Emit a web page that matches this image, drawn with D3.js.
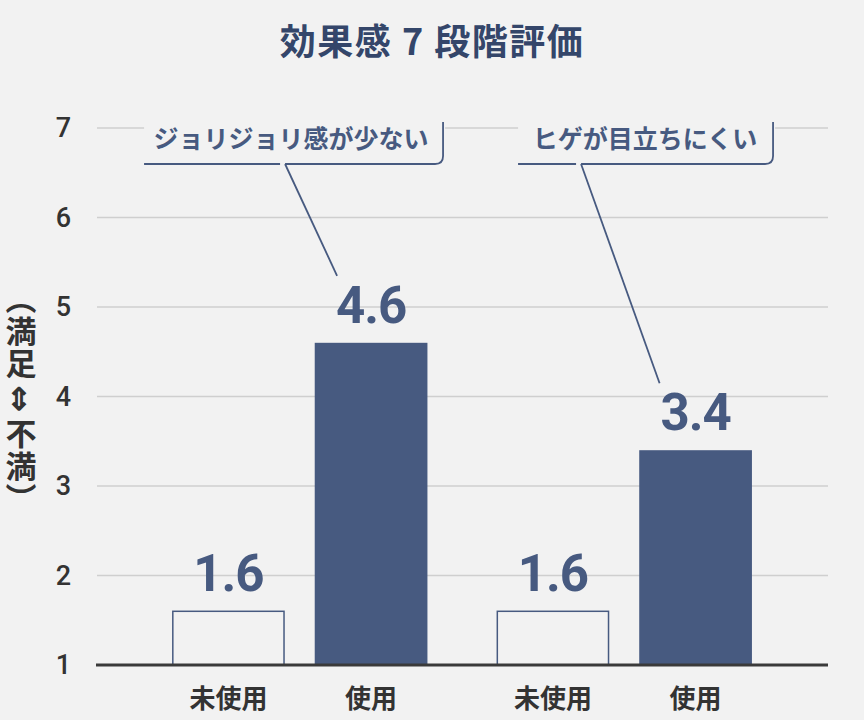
<!DOCTYPE html>
<html>
<head>
<meta charset="utf-8">
<script src="https://cdn.jsdelivr.net/npm/d3@7"></script>
<style>
  html, body { margin: 0; padding: 0; background: #f2f2f2; }
  svg { display: block; font-family: "Noto Sans CJK JP", "Noto Sans", sans-serif; }
</style>
</head>
<body>
<div id="chart"></div>
<script>
// DATA
const groups = ["ジョリジョリ感が少ない", "ヒゲが目立ちにくい"];
const conditions = ["未使用", "使用"];
const valuesUnused = [1.6, 1.6];
const valuesUsed = [4.6, 3.4];
const yTicks = [1, 2, 3, 4, 5, 6, 7];

// CONSTANTS
const width = 864, height = 720;
const navy = "#475a80";
const titleNavy = "#34466a";
const textDark = "#333333";
const bg = "#f2f2f2";

const svg = d3.select("#chart").append("svg")
    .attr("width", width)
    .attr("height", height);

svg.append("rect").attr("width", width).attr("height", height).attr("fill", bg);

// SCALES
const y = d3.scaleLinear().domain([1, 7]).range([665, 128]);
const x0 = d3.scaleBand().domain(groups).range([137.5, 786.5]).paddingInner(0.213).paddingOuter(0.1065);
const x1 = d3.scaleBand().domain(conditions).range([0, x0.bandwidth()]).paddingInner(0.21);

// title
svg.append("text")
    .attr("x", 432).attr("y", 55)
    .attr("text-anchor", "middle")
    .attr("font-size", 36).attr("font-weight", 700)
    .attr("letter-spacing", 1.5)
    .attr("fill", titleNavy)
    .text("効果感 7 段階評価");

// gridlines
svg.append("g")
    .selectAll("line")
    .data(yTicks.filter(d => d > 1))
    .join("line")
    .attr("x1", 97).attr("x2", 828)
    .attr("y1", d => y(d)).attr("y2", d => y(d))
    .attr("stroke", "#cfcfcf").attr("stroke-width", 1.5);

// y axis labels
const yAxis = svg.append("g")
    .attr("transform", "translate(71,0)")
    .call(d3.axisLeft(y).tickValues(yTicks).tickSize(0).tickPadding(0).tickFormat(d3.format("d")));
yAxis.select(".domain").remove();
yAxis.selectAll("text")
    .attr("font-family", "Roboto, 'Noto Sans', sans-serif")
    .attr("font-size", 27).attr("font-weight", 500)
    .attr("fill", textDark);

// y label (vertical)
svg.append("text")
    .attr("x", 21).attr("y", 283)
    .style("writing-mode", "vertical-rl")
    .style("text-orientation", "upright")
    .attr("font-size", 31).attr("font-weight", 700)
    .attr("letter-spacing", 1.5)
    .attr("fill", textDark)
    .text("（満足⇕不満）");

// bars
const rows = groups.map((g, i) => ({
    group: g,
    bars: [
        { cond: conditions[0], value: valuesUnused[i] },
        { cond: conditions[1], value: valuesUsed[i] }
    ]
}));

const gGroups = svg.append("g")
    .selectAll("g")
    .data(rows)
    .join("g")
    .attr("transform", d => `translate(${x0(d.group)},0)`);

gGroups.selectAll("rect")
    .data(d => d.bars)
    .join("rect")
    .attr("x", d => x1(d.cond) + (d.cond === "未使用" ? 0.75 : 0))
    .attr("y", d => y(d.value))
    .attr("width", d => x1.bandwidth() - (d.cond === "未使用" ? 1.5 : 0))
    .attr("height", d => y(1) - y(d.value))
    .attr("fill", d => d.cond === "使用" ? navy : "none")
    .attr("stroke", d => d.cond === "使用" ? "none" : navy)
    .attr("stroke-width", 1.5);

gGroups.selectAll("text.val")
    .data(d => d.bars)
    .join("text")
    .attr("class", "val")
    .attr("x", d => x1(d.cond) + x1.bandwidth() / 2)
    .attr("y", d => y(d.value) - 20)
    .attr("text-anchor", "middle")
    .attr("font-family", "Roboto, 'Noto Sans', sans-serif")
    .attr("font-size", 51).attr("font-weight", 700)
    .attr("letter-spacing", -1)
    .attr("fill", navy)
    .text(d => d3.format(".1f")(d.value));

gGroups.selectAll("text.cat")
    .data(d => d.bars)
    .join("text")
    .attr("class", "cat")
    .attr("x", d => x1(d.cond) + x1.bandwidth() / 2)
    .attr("y", 708)
    .attr("text-anchor", "middle")
    .attr("font-size", 26).attr("font-weight", 700)
    .attr("fill", textDark)
    .text(d => d.cond);

// baseline
svg.append("line")
    .attr("x1", 96).attr("x2", 828)
    .attr("y1", y(1)).attr("y2", y(1))
    .attr("stroke", "#3a3a3a").attr("stroke-width", 3);

// callouts: box offsets relative to each group's band
const boxLeft = [-28, 21.5];
const boxRight = [271, 276.5];
const pointerStart = [113, 84.5];
const textOffset = [119, 148.5];

const callouts = svg.append("g")
    .selectAll("g")
    .data(rows)
    .join("g");

callouts.each(function (d, i) {
    const g = d3.select(this);
    const gx = x0(d.group);
    const left = gx + boxLeft[i];
    const right = gx + boxRight[i];
    const top = y(7) - 6;
    const bottom = 164;
    const r = 8;
    const used = d.bars[1];
    const px = gx + pointerStart[i];
    const tipX = gx + x1("使用") + x1.bandwidth() / 2 + (i === 0 ? -34 : -36);
    const tipY = y(used.value) - 67;

    // mask gridline behind the label
    g.append("rect")
        .attr("x", left).attr("y", top)
        .attr("width", right - left + 2).attr("height", bottom - top)
        .attr("fill", bg);

    g.append("path")
        .attr("d", `M${left},${bottom} H${px - 5}`)
        .attr("fill", "none").attr("stroke", navy).attr("stroke-width", 1.8);

    g.append("path")
        .attr("d", `M${px},${bottom} H${right - r} Q${right},${bottom} ${right},${bottom - r} V${top}`)
        .attr("fill", "none").attr("stroke", navy).attr("stroke-width", 1.8);

    g.append("line")
        .attr("x1", px).attr("y1", bottom)
        .attr("x2", tipX).attr("y2", tipY)
        .attr("stroke", navy).attr("stroke-width", 1.8);

    g.append("text")
        .attr("x", gx + textOffset[i])
        .attr("y", 148)
        .attr("text-anchor", "middle")
        .attr("font-size", 25).attr("font-weight", 700)
        .attr("fill", navy)
        .text(d.group);
});
</script>
</body>
</html>
